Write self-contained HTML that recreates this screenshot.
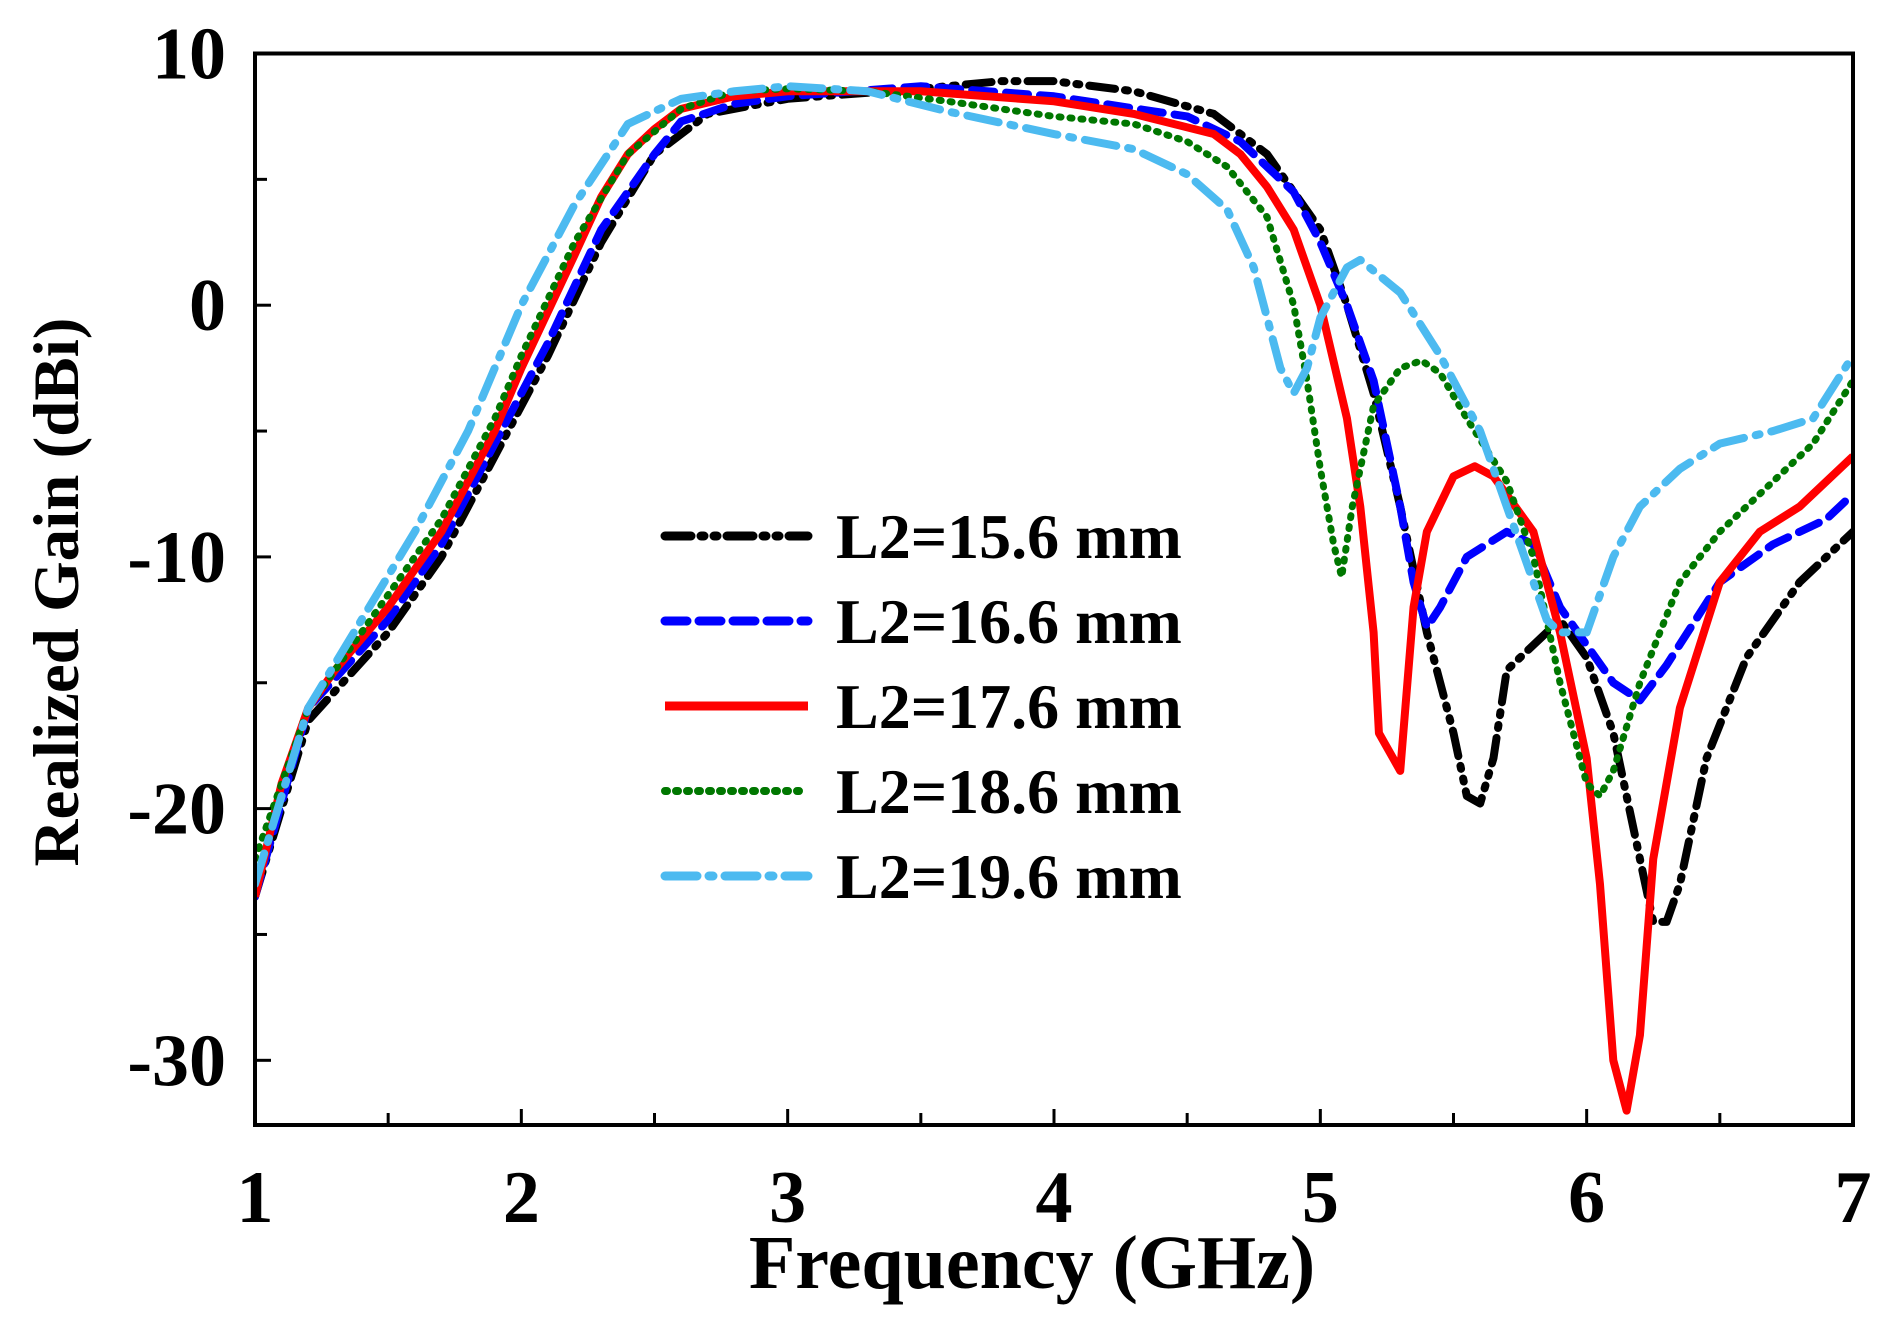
<!DOCTYPE html>
<html><head><meta charset="utf-8"><style>
html,body{margin:0;padding:0;background:#fff;}
svg{display:block;}
text{font-family:"Liberation Serif",serif;font-weight:bold;fill:#000;}
</style></head><body>
<svg id="chart" width="1895" height="1317" viewBox="0 0 1895 1317" xmlns="http://www.w3.org/2000/svg"></svg>
<script>
const xTicks=[1,2,3,4,5,6,7];
const yTicks=[10,0,-10,-20,-30];
const seriesNames=["L2=15.6 mm","L2=16.6 mm","L2=17.6 mm","L2=18.6 mm","L2=19.6 mm"];
const f156=[1,1.2,1.5,1.7,1.9,2.1,2.3,2.5,2.7,3.0,3.5,3.8,4.0,4.3,4.6,4.8,5.0,5.1,5.2,5.3,5.4,5.5,5.55,5.6,5.65,5.7,5.8,5.9,6.0,6.1,6.2,6.25,6.3,6.35,6.45,6.6,6.8,7.0];
const g156=[-23.5,-16.5,-13,-10,-6,-2,2.5,6,7.6,8.2,8.6,8.9,8.9,8.5,7.6,6,3,0,-3.5,-8,-13,-17,-19.5,-19.8,-18,-14.5,-13.5,-12.5,-14,-17,-22,-24.5,-24.5,-23,-18,-14,-11,-9];
const f166=[1,1.2,1.5,1.7,1.9,2.1,2.3,2.5,2.6,2.8,3.0,3.5,4.0,4.5,4.7,4.9,5.0,5.1,5.2,5.3,5.35,5.4,5.45,5.55,5.7,5.8,5.9,6.0,6.1,6.2,6.3,6.5,6.7,6.9,7.0];
const g166=[-23.5,-16,-12.5,-9.5,-5.5,-1.5,3,6,7.3,8,8.3,8.7,8.3,7.5,6.5,4.5,2.5,0,-3,-8,-11,-12.8,-12,-10,-9,-9.5,-12,-13.5,-15,-15.7,-14.3,-11,-9.5,-8.5,-7.5];
const f176=[1,1.1,1.2,1.3,1.5,1.7,1.9,2.0,2.2,2.3,2.4,2.5,2.6,2.8,3.0,3.5,4.0,4.3,4.6,4.7,4.8,4.9,5.0,5.1,5.15,5.2,5.22,5.3,5.35,5.4,5.5,5.58,5.65,5.8,5.9,6.0,6.05,6.1,6.15,6.2,6.25,6.35,6.5,6.65,6.8,7.0];
const g176=[-23.5,-19,-16,-14.5,-12,-9,-5,-2.5,2,4.3,6,7,7.8,8.3,8.5,8.5,8.1,7.6,6.8,6,4.7,3,0,-4.5,-8,-13,-17,-18.5,-12,-9,-6.8,-6.4,-6.8,-9,-13,-18,-23,-30,-32,-29,-22,-16,-11,-9,-8,-6];
const f186=[1,1.2,1.5,1.7,1.9,2.0,2.2,2.4,2.6,2.8,3.0,3.3,3.6,4.0,4.3,4.5,4.65,4.8,4.9,4.95,5.0,5.05,5.08,5.12,5.2,5.3,5.38,5.45,5.55,5.7,5.8,5.9,6.0,6.05,6.1,6.2,6.35,6.5,6.7,6.85,7.0];
const g186=[-22,-16,-11.5,-8.5,-4.5,-2,2.5,6,7.8,8.5,8.6,8.5,8.1,7.5,7.2,6.5,5.5,3.5,0,-3,-6.5,-9.5,-10.8,-8,-4,-2.5,-2.2,-2.7,-4.5,-7,-10,-15,-19,-19.5,-18.5,-15,-11,-9,-7,-5.5,-3];
const f196=[1,1.2,1.4,1.6,1.8,2.0,2.2,2.4,2.6,2.8,3.0,3.3,3.6,4.0,4.3,4.5,4.65,4.75,4.85,4.9,4.95,5.0,5.1,5.15,5.3,5.45,5.6,5.75,5.85,5.9,6.0,6.1,6.2,6.35,6.5,6.7,6.85,7.0];
const g196=[-23,-16,-12.5,-9,-5,0,4,7.2,8.2,8.5,8.7,8.5,7.7,6.8,6.2,5.2,3.8,1.5,-2.5,-3.5,-2.5,-0.5,1.5,1.8,0.5,-2,-5,-9.5,-12.5,-13,-13,-10,-8,-6.5,-5.5,-5,-4.5,-2];

const NS="http://www.w3.org/2000/svg";
const svg=document.getElementById('chart');
const L=255,R=1853,T=53.5,B=1125;
const xMin=1,xMax=7,yMin=-32.57,yMax=10;
const X=v=>L+(v-xMin)/(xMax-xMin)*(R-L);
const Y=v=>B-(v-yMin)/(yMax-yMin)*(B-T);
function mk(tag,attrs){const e=document.createElementNS(NS,tag);for(const k in attrs)e.setAttribute(k,attrs[k]);svg.appendChild(e);return e;}

const defs=[
 {f:f156,g:g156,c:"#000000",w:8,d:"26 10 3 10 3 10",n:"series-l2-15-6"},
 {f:f166,g:g166,c:"#0000ff",w:8,d:"22 12",n:"series-l2-16-6"},
 {f:f176,g:g176,c:"#ff0000",w:8,d:"",n:"series-l2-17-6"},
 {f:f186,g:g186,c:"#007700",w:7,d:"2 9",n:"series-l2-18-6"},
 {f:f196,g:g196,c:"#4cbaf0",w:8,d:"32 12 4 12",n:"series-l2-19-6"}
];
const clip=mk('clipPath',{id:'pc'});
const cr=document.createElementNS(NS,'rect');cr.setAttribute('x',L);cr.setAttribute('y',T);cr.setAttribute('width',R-L);cr.setAttribute('height',B-T);clip.appendChild(cr);
defs.forEach(s=>{
 const p=mk('polyline',{points:s.f.map((v,i)=>X(v)+','+Y(s.g[i])).join(' '),fill:'none',stroke:s.c,'stroke-width':s.w,'stroke-dasharray':s.d,'stroke-linejoin':'round','stroke-linecap':s.d?'round':'butt','clip-path':'url(#pc)'});
 
 
});
const fr=mk('rect',{x:L,y:T,width:R-L,height:B-T,fill:'none',stroke:'#000','stroke-width':4});


for(let v=1;v<=7;v+=0.5){const len=(v%1===0)?16:12;const t=mk('line',{x1:X(v),x2:X(v),y1:B,y2:B-len,stroke:'#000','stroke-width':3});
 
 }
for(let v=-30;v<=10;v+=5){const len=(v%10===0)?16:12;const t=mk('line',{x1:L,x2:L+len,y1:Y(v),y2:Y(v),stroke:'#000','stroke-width':3});
 
 }
xTicks.forEach(v=>{const t=mk('text',{x:X(v),y:1222,'text-anchor':'middle','font-size':74});t.textContent=v;
 
 });
yTicks.forEach(v=>{const t=mk('text',{x:226,y:Y(v)+25,'text-anchor':'end','font-size':74});t.textContent=v;
 
 });
const xt=mk('text',{x:1032,y:1288,'text-anchor':'middle','font-size':76});xt.textContent='Frequency (GHz)';


const yt=mk('text',{x:0,y:0,'text-anchor':'middle','font-size':65,transform:'translate(78,592) rotate(-90)'});yt.textContent='Realized Gain (dBi)';


defs.forEach((s,i)=>{
 const y=536+i*85;
 const l=mk('line',{x1:665,x2:808,y1:y,y2:y,stroke:s.c,'stroke-width':s.w+1,'stroke-dasharray':s.d,'stroke-linecap':s.d?'round':'butt'});
 
 
 const t=mk('text',{x:836,y:y+22,'font-size':64});t.textContent=seriesNames[i];
 
 
});
</script>
</body></html>
